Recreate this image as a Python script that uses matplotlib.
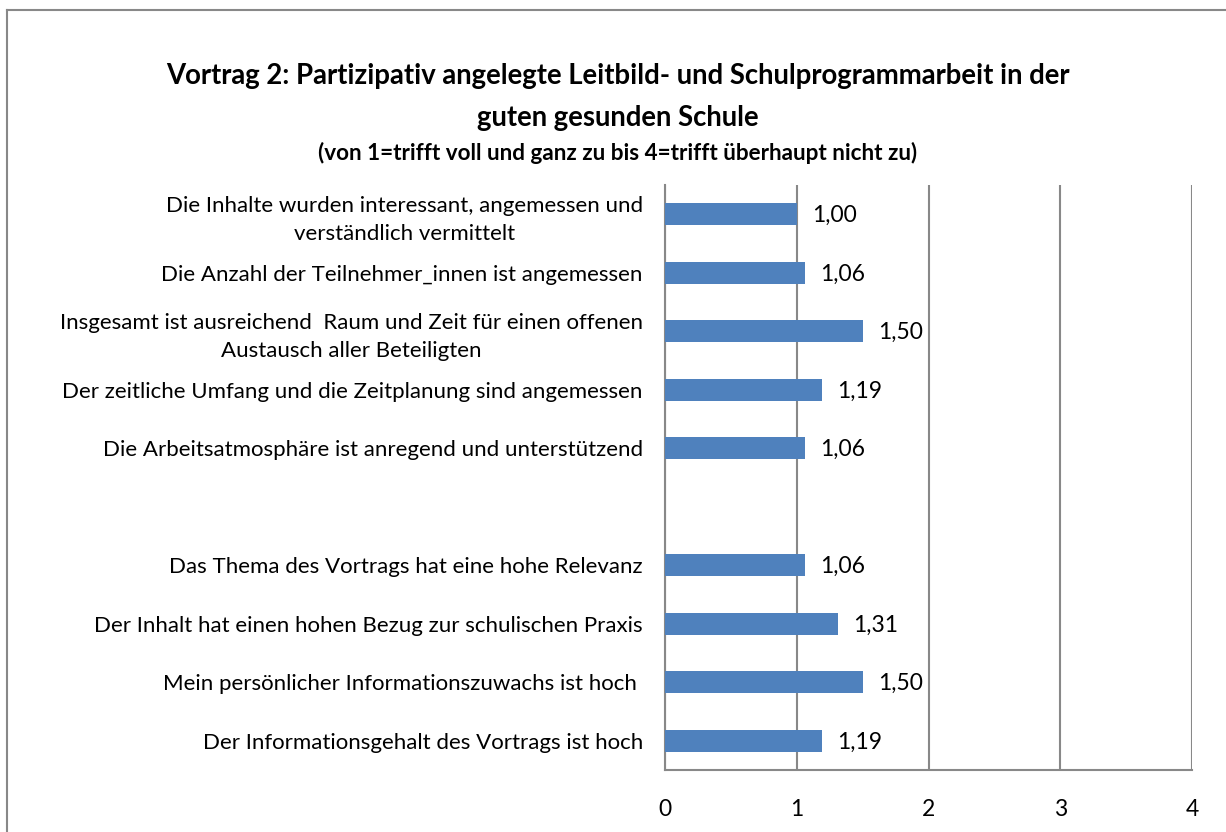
import matplotlib
matplotlib.use("Agg")
import matplotlib.pyplot as plt
from matplotlib.lines import Line2D

plt.rcParams['font.family'] = ['Lato', 'DejaVu Sans']

labels = [
    "Die Inhalte wurden interessant, angemessen und\nverständlich vermittelt",
    "Die Anzahl der Teilnehmer_innen ist angemessen",
    "Insgesamt ist ausreichend  Raum und Zeit für einen offenen\nAustausch aller Beteiligten",
    "Der zeitliche Umfang und die Zeitplanung sind angemessen",
    "Die Arbeitsatmosphäre ist anregend und unterstützend",
    "",
    "Das Thema des Vortrags hat eine hohe Relevanz",
    "Der Inhalt hat einen hohen Bezug zur schulischen Praxis",
    "Mein persönlicher Informationszuwachs ist hoch ",
    "Der Informationsgehalt des Vortrags ist hoch",
]
values = [1.00, 1.06, 1.50, 1.19, 1.06, None, 1.06, 1.31, 1.50, 1.19]
xticks = [0, 1, 2, 3, 4]

fig = plt.figure(figsize=(12.26, 8.32), dpi=100)
# frame: top and left edges only (chart area extends beyond the image)
fig.lines.append(Line2D([7/1226, 1.0], [1 - 9.5/832, 1 - 9.5/832], transform=fig.transFigure,
                        color='#888888', linewidth=1.5))
fig.lines.append(Line2D([7/1226, 7/1226], [0.0, 1 - 9.5/832], transform=fig.transFigure,
                        color='#888888', linewidth=1.5))

ax = fig.add_axes([665/1226, 1 - 770/832, (1192-665)/1226, (770-185)/832])
pos = list(range(len(labels)))
for p, v in zip(pos, values):
    if v is None:
        continue
    ax.barh(p, v, height=0.38, color='#4F81BD', zorder=3)
    ax.text(v + 0.12, p + 0.02, f"{v:.2f}".replace('.', ','), va='center', ha='left',
            fontsize=16.5, color='black')

ax.set_ylim(len(labels) - 0.5, -0.5)
ax.set_xlim(0, 4)
ax.set_yticks(pos)
ax.set_yticklabels(labels, fontsize=16, linespacing=1.5, multialignment='center')
ax.set_xticks(xticks)
ax.set_xticklabels([str(t) for t in xticks], fontsize=16.5)
ax.tick_params(axis='y', length=0, pad=16)
ax.tick_params(axis='x', length=0, pad=21)
ax.grid(axis='x', color='#888888', linewidth=1.5, zorder=0)
for s in ['top', 'right']:
    ax.spines[s].set_visible(False)
ax.spines['left'].set_color('#888888')
ax.spines['left'].set_linewidth(1.5)
ax.spines['bottom'].set_color('#888888')
ax.spines['bottom'].set_linewidth(1.5)

fig.text(618/1226, 1 - 76/832, "Vortrag 2: Partizipativ angelegte Leitbild- und Schulprogrammarbeit in der",
         ha='center', va='center', fontsize=19.8, fontweight='bold')
fig.text(618/1226, 1 - 118/832, "guten gesunden Schule",
         ha='center', va='center', fontsize=19.8, fontweight='bold')
fig.text(618/1226, 1 - 153/832, "(von 1=trifft voll und ganz zu bis 4=trifft überhaupt nicht zu)",
         ha='center', va='center', fontsize=16.2, fontweight='bold')

fig.savefig("out.png", dpi=100)
